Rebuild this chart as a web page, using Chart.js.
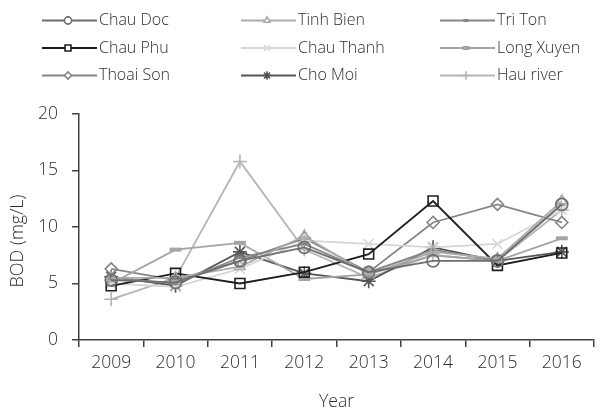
<!DOCTYPE html>
<html>
<head>
<meta charset="utf-8">
<script src="https://cdn.jsdelivr.net/npm/chart.js@4.4.0/dist/chart.umd.min.js"></script>
<style>
  html, body { margin: 0; padding: 0; background: #fff; }
  #wrap { width: 604px; height: 413px; position: relative; }
</style>
</head>
<body>
<div id="wrap"><canvas id="bodChart"></canvas></div>
<script>
// Data
const years = ['2009', '2010', '2011', '2012', '2013', '2014', '2015', '2016'];
const chauDoc   = [5.3, 5.1, 7.0, 8.2, 6.0, 7.0, 7.0, 12.0];
const tinhBien  = [5.5, 5.5, 6.5, 9.2, 5.8, 7.8, 7.2, 12.3];
const triTon    = [5.5, 5.0, 7.3, 8.5, 6.0, 8.0, 7.0, 12.0];
const chauPhu   = [4.8, 5.9, 5.0, 6.0, 7.6, 12.3, 6.6, 7.7];
const chauThanh = [5.0, 4.7, 6.3, 8.8, 8.5, 8.2, 8.5, 11.5];
const longXuyen = [5.0, 8.0, 8.6, 5.4, 5.8, 7.5, 7.0, 9.0];
const thoaiSon  = [6.3, 5.3, 7.0, 9.0, 6.0, 10.4, 12.0, 10.4];
const choMoi    = [5.6, 4.8, 7.8, 5.9, 5.2, 8.2, 7.0, 7.8];
const hauRiver  = [3.6, 5.5, 15.8, 8.0, 5.5, 7.5, 7.0, 11.5];
const yTicks = [0, 5, 10, 15, 20];

function series(label, data, color, style, radius, bw) {
    return {
        label: label,
        data: data,
        borderColor: color,
        backgroundColor: 'transparent',
        pointBorderColor: color,
        pointBackgroundColor: 'transparent',
        pointStyle: style,
        pointRadius: radius,
        pointBorderWidth: bw || 1.6,
        borderWidth: 1.8,
        tension: 0
    };
}

const datasets = [
    series('Chau Doc', chauDoc, '#6e6e6e', 'circle', 6),
    series('Tinh Bien', tinhBien, '#ababab', 'triangle', 6),
    series('Tri Ton', triTon, '#858585', 'line', 3, 3),
    series('Chau Phu', chauPhu, '#1e1e1e', 'rect', 7),
    series('Chau Thanh', chauThanh, '#d6d6d6', 'crossRot', 7),
    series('Long Xuyen', longXuyen, '#a4a4a4', 'line', 6, 4),
    series('Thoai Son', thoaiSon, '#858585', 'rectRot', 6),
    series('Cho Moi', choMoi, '#555555', 'star', 7),
    series('Hau river', hauRiver, '#b4b4b4', 'cross', 7)
];

// legend in three columns, line + marker, like the original
const gridLegend = {
    id: 'gridLegend',
    afterDraw(chart) {
        const ctx = chart.ctx;
        const colX = [42, 241, 440];
        const rowY = [20.5, 48, 75.5];
        chart.data.datasets.forEach((ds, i) => {
            const x = colX[i % 3];
            const y = rowY[Math.floor(i / 3)];
            ctx.save();
            ctx.strokeStyle = ds.borderColor;
            ctx.lineWidth = 2;
            ctx.beginPath();
            ctx.moveTo(x, y);
            ctx.lineTo(x + 55, y);
            ctx.stroke();
            ctx.lineWidth = ds.pointBorderWidth;
            ctx.fillStyle = '#fff';
            Chart.helpers.drawPoint(ctx, {
                pointStyle: ds.pointStyle,
                radius: Math.max(2.5, ds.pointRadius * 0.6),
                borderWidth: ds.pointBorderWidth
            }, x + 26, y);
            ctx.fillStyle = '#2e2e2e';
            ctx.font = '300 16px "Open Sans"';
            ctx.textBaseline = 'middle';
            ctx.fillText(ds.label, x + 57, y);
            ctx.restore();
        });
    }
};

const fontTick = { family: 'Open Sans', size: 17.5, weight: '300' };

const ctx = document.getElementById('bodChart').getContext('2d');
new Chart(ctx, {
    type: 'line',
    data: { labels: years, datasets: datasets },
    options: {
        responsive: true,
        maintainAspectRatio: false,
        animation: false,
        layout: { padding: { top: 114, right: 0, bottom: 0, left: 0 } },
        plugins: {
            legend: { display: false },
            tooltip: { enabled: false }
        },
        scales: {
            x: {
                offset: true,
                grid: { display: true, drawOnChartArea: false, offset: true, tickLength: 7, color: '#404040', lineWidth: 1.5 },
                border: { color: '#404040', width: 1.5 },
                ticks: { color: '#2e2e2e', font: fontTick, padding: 6 },
                title: { display: true, text: 'Year', color: '#2e2e2e', font: fontTick, padding: { top: 4, bottom: 0 } },
                afterFit(scale) { scale.height = 73; }
            },
            y: {
                min: 0,
                max: 20,
                afterBuildTicks(scale) { scale.ticks = yTicks.map(v => ({ value: v })); },
                grid: { display: true, drawOnChartArea: false, tickLength: 7, color: '#404040', lineWidth: 1.5 },
                border: { color: '#404040', width: 1.5 },
                ticks: { color: '#2e2e2e', font: fontTick, padding: 14 },
                // trailing spaces push the label a bit down, as in the original
                title: { display: true, text: 'BOD (mg/L)\u00A0\u00A0\u00A0\u00A0\u00A0\u00A0', color: '#2e2e2e', font: { family: 'Open Sans', size: 18, weight: '300' }, padding: { top: 7, bottom: 4 } },
                afterFit(scale) { scale.width = 79; }
            }
        }
    },
    plugins: [gridLegend]
});
</script>
</body>
</html>
